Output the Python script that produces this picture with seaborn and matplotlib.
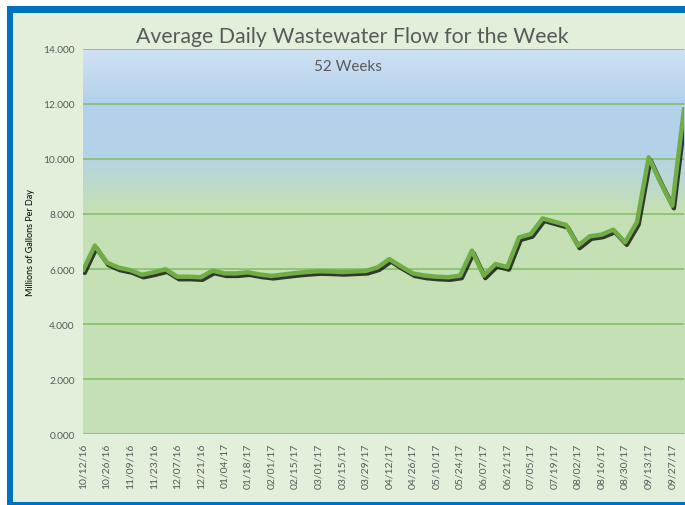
import numpy as np
import matplotlib
matplotlib.use("Agg")
import matplotlib.pyplot as plt
import matplotlib.patheffects as pe
from matplotlib.colors import LinearSegmentedColormap
from matplotlib.patches import Rectangle
import pandas as pd
import seaborn as sns

# weekly average flow, millions of gallons per day (52 weeks, 10/12/16 .. 10/04/17)
flow = [5.95, 6.85, 6.24, 6.05, 5.96, 5.79, 5.88, 5.99, 5.72, 5.72,
        5.70, 5.94, 5.84, 5.84, 5.88, 5.80, 5.75, 5.80, 5.85, 5.89,
        5.92, 5.91, 5.89, 5.91, 5.93, 6.06, 6.36, 6.09, 5.84, 5.76,
        5.72, 5.70, 5.76, 6.67, 5.76, 6.18, 6.07, 7.15, 7.27, 7.84,
        7.72, 7.60, 6.85, 7.19, 7.25, 7.43, 6.97, 7.70, 10.06, 9.15,
        8.30, 11.82]

tick_labels = ["10/12/16", "10/26/16", "11/09/16", "11/23/16", "12/07/16",
               "12/21/16", "01/04/17", "01/18/17", "02/01/17", "02/15/17",
               "03/01/17", "03/15/17", "03/29/17", "04/12/17", "04/26/17",
               "05/10/17", "05/24/17", "06/07/17", "06/21/17", "07/05/17",
               "07/19/17", "08/02/17", "08/16/17", "08/30/17", "09/13/17",
               "09/27/17"]

y_ticks = [0, 2, 4, 6, 8, 10, 12, 14]

df = pd.DataFrame({"week": range(len(flow)), "flow": flow})

sns.set_style("white")
plt.rcParams["font.family"] = ["Lato", "DejaVu Sans"]

fig = plt.figure(figsize=(6.85, 5.06), dpi=100)
fig.patch.set_facecolor("#E2EFDA")

# blue frame of the slide (top, left, bottom); white margin above and left
frame = "#0070C0"
fig.patches.append(Rectangle((0, 0.986), 1, 0.014, transform=fig.transFigure,
                             facecolor="white", edgecolor="none"))
fig.patches.append(Rectangle((0, 0), 0.010, 1, transform=fig.transFigure,
                             facecolor="white", edgecolor="none"))
fig.patches.append(Rectangle((0.010, 0.972), 0.990, 0.014, transform=fig.transFigure,
                             facecolor=frame, edgecolor="none"))
fig.patches.append(Rectangle((0.010, 0), 0.009, 0.986, transform=fig.transFigure,
                             facecolor=frame, edgecolor="none"))
fig.patches.append(Rectangle((0.010, 0), 0.990, 0.006, transform=fig.transFigure,
                             facecolor=frame, edgecolor="none"))

ax = fig.add_axes([0.1212, 0.1403, 0.8774, 0.7609])

# gradient background, blue at top fading into green
cmap = LinearSegmentedColormap.from_list("bg", [
    (0.0, "#C5E0B4"), (0.58, "#C5E0B4"), (0.73, "#B4D2E8"),
    (0.86, "#B3D1EC"), (1.0, "#D0E2F4")])
grad = np.linspace(0, 1, 256).reshape(-1, 1)
ax.imshow(grad, cmap=cmap, origin="lower", aspect="auto",
          extent=[0, 1, 0, 1], transform=ax.transAxes, zorder=0)

for v in y_ticks:
    ax.axhline(v, color="#84C06A", linewidth=1.2, zorder=1)

sns.lineplot(data=df, x="week", y="flow", ax=ax, color="#70AD47",
             linewidth=3.2, zorder=3,
             path_effects=[pe.SimpleLineShadow(offset=(1.2, -1.8), shadow_color="black",
                                               alpha=0.75, linewidth=3.2),
                           pe.Normal()])

ax.set_xlim(0, len(flow) - 1)
ax.set_ylim(0, 14)
ax.set_yticks(y_ticks)
ax.set_yticklabels([f"{v:.3f}" for v in y_ticks], fontsize=7.3, color="#595959")
ax.set_xticks(range(0, len(flow), 2))
ax.set_xticklabels(tick_labels, rotation=90, fontsize=7.5, color="#595959")
ax.tick_params(axis="both", length=0, pad=6)
ax.set_xlabel("")
ax.set_ylabel("Millions of Gallons Per Day", fontsize=6.5, color="black", labelpad=6)
for s in ax.spines.values():
    s.set_visible(False)

fig.text(0.514, 0.927, "Average Daily Wastewater Flow for the Week",
         ha="center", va="center", fontsize=15.3, color="#595959")
ax.text(0.44, 0.955, "52 Weeks", transform=ax.transAxes, ha="center", va="center",
        fontsize=11, color="#595959")

fig.savefig("out.png", dpi=100, facecolor=fig.get_facecolor())
